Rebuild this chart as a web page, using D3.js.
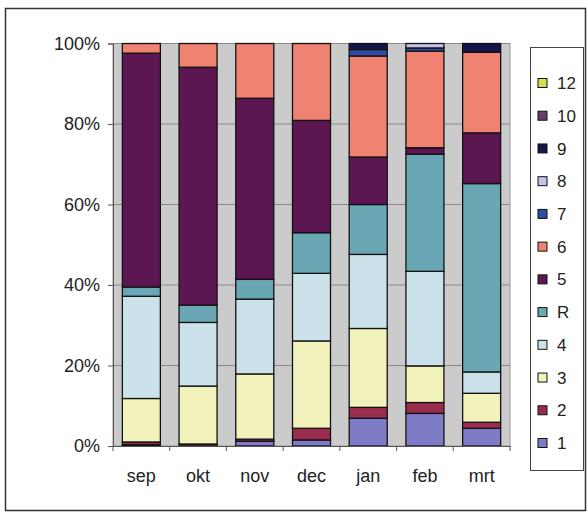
<!DOCTYPE html>
<html><head><meta charset="utf-8">
<script src="https://cdn.jsdelivr.net/npm/d3@7"></script>
<style>body{margin:0;background:#fff}svg{display:block}text{font-family:"Liberation Sans",Arial,sans-serif;fill:#222}</style>
</head><body>
<svg id="c" width="587" height="512"></svg>
<script>
const months = ["sep","okt","nov","dec","jan","feb","mrt"];
const seriesKeys = ["1","2","3","4","R","5","6","7","8","9","10","12"];
const legendOrder = ["12","10","9","8","7","6","5","R","4","3","2","1"];
const colors = ["#7e7cc6","#9a2c4e","#f2f2bc","#cce2ea","#6aa7b4","#5c1652","#f08272","#2e4d9e","#c3c3ea","#15154c","#6a3a6a","#d6de4e"];
const s1  = [0.3, 0,   1.2, 1.5, 6.9, 8.1, 4.4];
const s2  = [0.7, 0.5, 0.5, 2.9, 2.7, 2.7, 1.5];
const s3  = [10.8,14.4,16.2,21.7,19.6,9.1, 7.2];
const s4  = [25.4,15.8,18.6,16.8,18.4,23.5,5.3];
const sR  = [2.3, 4.3, 4.9, 10.1,12.4,29.1,46.8];
const s5  = [58.1,59.1,45.0,27.9,11.8,1.6, 12.6];
const s6  = [2.4, 5.9, 13.6,19.1,25.1,24.0,20.0];
const s7  = [0,   0,   0,   0,   1.6, 0.8, 0];
const s8  = [0,   0,   0,   0,   0,   1.1, 0];
const s9  = [0,   0,   0,   0,   1.5, 0,   2.2];
const s10 = [0,   0,   0,   0,   0,   0,   0];
const s12 = [0,   0,   0,   0,   0,   0,   0];
const yTicks = [0,20,40,60,80,100];

const seriesVals = [s1,s2,s3,s4,sR,s5,s6,s7,s8,s9,s10,s12];
const table = months.map((m,i)=>{const o={month:m};seriesKeys.forEach((k,j)=>o[k]=seriesVals[j][i]);return o;});
const color = d3.scaleOrdinal().domain(seriesKeys).range(colors);

const svg = d3.select("#c");
svg.append("rect").attr("x",5.5).attr("y",8.5).attr("width",580).attr("height",502).attr("fill","#fff").attr("stroke","#333").attr("stroke-width",1.5);

const L=113,R=510,T=43.5,B=446;
const x = d3.scaleBand().domain(months).range([L,R]).paddingInner(0.33).paddingOuter(0.165);
const y = d3.scaleLinear().domain([0,100]).range([B,T]);

svg.append("rect").attr("x",L).attr("y",T).attr("width",R-L).attr("height",B-T).attr("fill","#cbcbcb").attr("stroke","#999").attr("stroke-width",1);
svg.append("g").selectAll("line").data(yTicks.filter(t=>t>0)).join("line")
  .attr("x1",L).attr("x2",R).attr("y1",d=>y(d)).attr("y2",d=>y(d)).attr("stroke","#8a8a8a").attr("stroke-width",1);

const stack = d3.stack().keys(seriesKeys)(table);
svg.append("g").selectAll("g").data(stack).join("g").attr("fill",d=>color(d.key))
  .selectAll("rect").data(d=>d.filter(p=>p[1]-p[0]>0)).join("rect")
  .attr("x",d=>x(d.data.month)).attr("width",x.bandwidth())
  .attr("y",d=>y(d[1])).attr("height",d=>y(d[0])-y(d[1]))
  .attr("stroke","#111").attr("stroke-width",1.3);

const ya = svg.append("g").attr("transform",`translate(${L},0)`)
  .call(d3.axisLeft(y).tickValues(yTicks).tickFormat(d=>d+"%").tickSize(5).tickPadding(8));
ya.select(".domain").attr("stroke","#555");
ya.selectAll(".tick line").attr("stroke","#555");
ya.selectAll("text").attr("font-size",18).style("fill","#222");

const xa = svg.append("g").attr("transform",`translate(0,${B})`)
  .call(d3.axisBottom(x).tickSize(0).tickPadding(23));
xa.select(".domain").attr("stroke","#555");
xa.selectAll("text").attr("font-size",18).style("fill","#222");
const step = x.step();
svg.append("g").selectAll("line").data(d3.range(months.length+1)).join("line")
  .attr("x1",i=>L+i*step).attr("x2",i=>L+i*step).attr("y1",B).attr("y2",B+5).attr("stroke","#555");

const lg = svg.append("g");
lg.append("rect").attr("x",530.5).attr("y",47.5).attr("width",53).attr("height",423).attr("fill","#fff").attr("stroke","#444").attr("stroke-width",1);
const ly = d3.scalePoint().domain(legendOrder).range([83,443]);
const items = lg.selectAll("g.item").data(legendOrder).join("g").attr("class","item").attr("transform",k=>`translate(0,${ly(k)})`);
items.append("rect").attr("x",538).attr("y",-4.5).attr("width",9).attr("height",9).attr("fill",k=>color(k)).attr("stroke","#111").attr("stroke-width",1);
items.append("text").attr("x",557).attr("y",0).attr("dy","0.36em").attr("font-size",17).text(k=>k);
</script>
</body></html>
